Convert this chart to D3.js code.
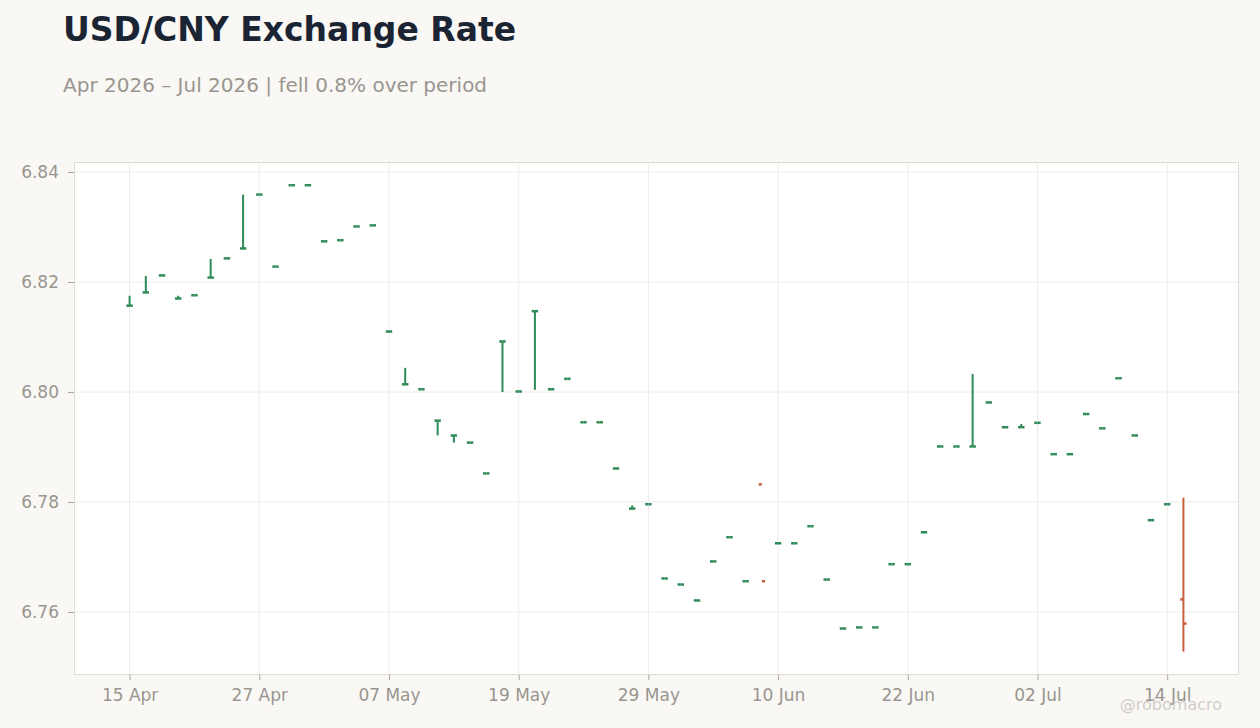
<!DOCTYPE html>
<html><head><meta charset="utf-8">
<script src="https://cdn.jsdelivr.net/npm/d3@7/dist/d3.min.js"></script>
<style>
body{margin:0;background:#f9f8f5;}
svg{display:block;font-family:"DejaVu Sans",sans-serif;}
</style>
</head><body>
<svg id="chart" width="1260" height="728"></svg>
<script>
const dates = ["15 Apr","16 Apr","17 Apr","20 Apr","21 Apr","22 Apr","23 Apr","24 Apr",
  "27 Apr","28 Apr","29 Apr","30 Apr","01 May","04 May","05 May","06 May",
  "07 May","08 May","11 May","12 May","13 May","14 May","15 May","18 May",
  "19 May","20 May","21 May","22 May","25 May","26 May","27 May","28 May",
  "29 May","01 Jun","02 Jun","03 Jun","04 Jun","05 Jun","08 Jun","09 Jun",
  "10 Jun","11 Jun","12 Jun","15 Jun","16 Jun","17 Jun","18 Jun","19 Jun",
  "22 Jun","23 Jun","24 Jun","25 Jun","26 Jun","29 Jun","30 Jun","01 Jul",
  "02 Jul","03 Jul","06 Jul","07 Jul","08 Jul","09 Jul","10 Jul","13 Jul",
  "14 Jul","15 Jul"];
const openVals = [6.8157,6.8181,6.8212,6.8170,6.8176,6.8208,6.8243,6.8261,
  6.8359,6.8228,6.8376,6.8376,6.8274,6.8276,6.8301,6.8303,
  6.8110,6.8014,6.8005,6.7948,6.7921,6.7908,6.7852,6.8092,
  6.8001,6.8147,6.8005,6.8024,6.7945,6.7945,6.7861,6.7788,
  6.7796,6.7661,6.7650,6.7621,6.7692,6.7736,6.7656,6.7832,
  6.7725,6.7725,6.7756,6.7659,6.7570,6.7572,6.7572,6.7687,
  6.7687,6.7745,6.7901,6.7901,6.7901,6.7981,6.7936,6.7936,
  6.7944,6.7887,6.7887,6.7960,6.7934,6.8025,6.7921,6.7767,
  6.7796,6.7623];
const highVals = [6.8175,6.8211,6.8212,6.8175,6.8176,6.8242,6.8243,6.8359,
  6.8359,6.8228,6.8376,6.8376,6.8274,6.8276,6.8301,6.8303,
  6.8110,6.8044,6.8005,6.7948,6.7921,6.7908,6.7852,6.8092,
  6.8001,6.8147,6.8005,6.8024,6.7945,6.7945,6.7861,6.7794,
  6.7796,6.7661,6.7650,6.7621,6.7692,6.7736,6.7656,6.7656,
  6.7725,6.7725,6.7756,6.7659,6.7570,6.7572,6.7572,6.7687,
  6.7687,6.7745,6.7901,6.7901,6.8033,6.7981,6.7936,6.7942,
  6.7944,6.7887,6.7887,6.7960,6.7934,6.8025,6.7921,6.7767,
  6.7796,6.7808];
const lowVals = [6.8157,6.8181,6.8212,6.8170,6.8176,6.8208,6.8243,6.8261,
  6.8359,6.8228,6.8376,6.8376,6.8274,6.8276,6.8301,6.8303,
  6.8110,6.8014,6.8005,6.7921,6.7908,6.7908,6.7852,6.8000,
  6.8001,6.8004,6.8005,6.8024,6.7945,6.7945,6.7861,6.7788,
  6.7796,6.7661,6.7650,6.7621,6.7692,6.7736,6.7656,6.7656,
  6.7725,6.7725,6.7756,6.7659,6.7570,6.7572,6.7572,6.7687,
  6.7687,6.7745,6.7901,6.7901,6.7901,6.7981,6.7936,6.7936,
  6.7944,6.7887,6.7887,6.7960,6.7934,6.8025,6.7921,6.7767,
  6.7796,6.7528];
const closeVals = [6.8157,6.8181,6.8212,6.8170,6.8176,6.8208,6.8243,6.8261,
  6.8359,6.8228,6.8376,6.8376,6.8274,6.8276,6.8301,6.8303,
  6.8110,6.8014,6.8005,6.7948,6.7921,6.7908,6.7852,6.8092,
  6.8001,6.8147,6.8005,6.8024,6.7945,6.7945,6.7861,6.7788,
  6.7796,6.7661,6.7650,6.7621,6.7692,6.7736,6.7656,6.7656,
  6.7725,6.7725,6.7756,6.7659,6.7570,6.7572,6.7572,6.7687,
  6.7687,6.7745,6.7901,6.7901,6.7901,6.7981,6.7936,6.7936,
  6.7944,6.7887,6.7887,6.7960,6.7934,6.8025,6.7921,6.7767,
  6.7796,6.7579];
const yTickVals = [6.76,6.78,6.80,6.82,6.84];
const xTickLabels = ["15 Apr","27 Apr","07 May","19 May","29 May","10 Jun","22 Jun","02 Jul","14 Jul"];

const data = dates.map((d,i)=>({d, o:openVals[i], h:highVals[i], l:lowVals[i], c:closeVals[i]}));

const W = 1260, H = 728;
const m = {l:74, r:21, t:162, b:53};
const svg = d3.select("#chart");
svg.append("rect").attr("width",W).attr("height",H).attr("fill","#f9f8f5");

const x = d3.scalePoint().domain(dates).range([m.l, W-m.r]).padding(3.43);
const y = d3.scaleLinear().domain([6.74855, 6.84182]).range([H-m.b, m.t]);

svg.append("rect").attr("x",m.l).attr("y",m.t).attr("width",W-m.r-m.l).attr("height",H-m.b-m.t)
  .attr("fill","#ffffff");

const grid = svg.append("g");
grid.selectAll("line.h").data(yTickVals).join("line")
  .attr("x1",m.l).attr("x2",W-m.r).attr("y1",d=>y(d)).attr("y2",d=>y(d))
  .attr("stroke","#eeecea").attr("stroke-width",1);
grid.selectAll("line.v").data(xTickLabels).join("line")
  .attr("y1",m.t).attr("y2",H-m.b).attr("x1",d=>x(d)).attr("x2",d=>x(d))
  .attr("stroke","#eeecea").attr("stroke-width",1);

svg.append("rect").attr("x",m.l+0.5).attr("y",m.t+0.5).attr("width",W-m.r-m.l-1).attr("height",H-m.b-m.t-1)
  .attr("fill","none").attr("stroke","#e0dbd3").attr("stroke-width",1);

const textCol = "#9a958f";
const yAxis = svg.append("g").attr("transform",`translate(${m.l},0)`)
  .call(d3.axisLeft(y).tickValues(yTickVals).tickFormat(d3.format(".2f")).tickSize(6).tickPadding(9));
const xAxis = svg.append("g").attr("transform",`translate(0,${H-m.b})`)
  .call(d3.axisBottom(x).tickValues(xTickLabels).tickSize(5).tickPadding(9));
[yAxis,xAxis].forEach(a=>{
  a.select(".domain").remove();
  a.selectAll(".tick line").attr("stroke","#a9a49e");
  a.selectAll("text").attr("fill",textCol).style("font-size","17px").style("font-family","'DejaVu Sans',sans-serif");
});

const up = "#2e8b57", down = "#c9603f";
const col = d => d.c >= d.o ? up : down;
const bars = svg.append("g").selectAll("g").data(data).join("g");
bars.append("line").attr("x1",d=>x(d.d)).attr("x2",d=>x(d.d))
  .attr("y1",d=>y(d.h)).attr("y2",d=>y(d.l)).attr("stroke",col).attr("stroke-width",2);
bars.append("line").attr("x1",d=>x(d.d)-3.2).attr("x2",d=>x(d.d))
  .attr("y1",d=>y(d.o)).attr("y2",d=>y(d.o)).attr("stroke",col).attr("stroke-width",2.5);
bars.append("line").attr("x1",d=>x(d.d)).attr("x2",d=>x(d.d)+3.2)
  .attr("y1",d=>y(d.c)).attr("y2",d=>y(d.c)).attr("stroke",col).attr("stroke-width",2.5);

svg.append("text").attr("x",63).attr("y",40.5).text("USD/CNY Exchange Rate")
  .attr("fill","#1b2433").style("font-size","33px").style("font-weight","bold");
svg.append("text").attr("x",63).attr("y",92).text("Apr 2026 – Jul 2026 | fell 0.8% over period")
  .attr("fill","#9a958f").style("font-size","20px");
svg.append("text").attr("x",1222).attr("y",710).attr("text-anchor","end").text("@robomacro")
  .attr("fill","#c9c6c2").attr("fill-opacity",0.85).style("font-size","16px");
</script>
</body></html>
